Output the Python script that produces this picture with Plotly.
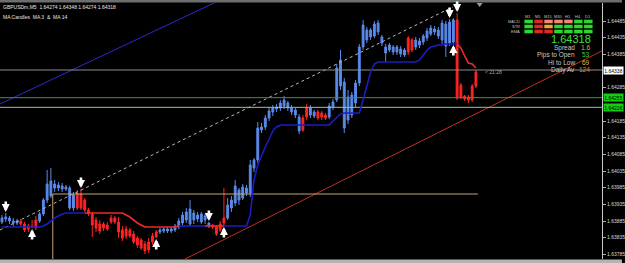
import plotly.graph_objects as go

# ---------------- data ----------------
symbol_line = "GBPUSDm,M5  1.64274 1.64348 1.64274 1.64318"
indicator_line = "MA Candles  MA 3  &  MA 14"

opens = [1.63882, 1.63891, 1.63894, 1.63885, 1.63879, 1.63885, 1.63876, 1.63861, 1.63870, 1.63864,
         1.63885, 1.63906, 1.63948, 1.63960, 1.63996, 1.63984, 1.63990, 1.63981, 1.63984, 1.63924,
         1.63969, 1.63966, 1.63948, 1.63918, 1.63906, 1.63888, 1.63876, 1.63864, 1.63873, 1.63882,
         1.63894, 1.63882, 1.63858, 1.63840, 1.63858, 1.63846, 1.63834, 1.63828, 1.63816, 1.63798,
         1.63822, 1.63837, 1.63852, 1.63855, 1.63861, 1.63855, 1.63858, 1.63867, 1.63879, 1.63888,
         1.63876, 1.63888, 1.63903, 1.63882, 1.63888, 1.63879, 1.63873, 1.63867, 1.63876, 1.63894,
         1.63894, 1.63924, 1.63939, 1.63978, 1.63954, 1.63984, 1.63969, 1.64044, 1.64068, 1.64158,
         1.64167, 1.64194, 1.64212, 1.64221, 1.64224, 1.64230, 1.64239, 1.64224, 1.64218, 1.64197,
         1.64194, 1.64197, 1.64203, 1.64212, 1.64212, 1.64209, 1.64203, 1.64197, 1.64227, 1.64248,
         1.64290, 1.64302, 1.64188, 1.64203, 1.64239, 1.64299, 1.64407, 1.64458, 1.64437, 1.64440,
         1.64452, 1.64437, 1.64407, 1.64398, 1.64407, 1.64392, 1.64401, 1.64383, 1.64392, 1.64428,
         1.64407, 1.64413, 1.64422, 1.64434, 1.64446, 1.64461, 1.64458, 1.64428, 1.64476, 1.64419,
         1.64422, 1.64488, 1.64293, 1.64260, 1.64257, 1.64248, 1.64290]
highs = [1.63903, 1.63909, 1.63900, 1.63894, 1.63891, 1.63891, 1.63882, 1.63876, 1.63888, 1.63900,
         1.63912, 1.63954, 1.64038, 1.64044, 1.64008, 1.64002, 1.63999, 1.63993, 1.63990, 1.63972,
         1.63978, 1.63981, 1.63954, 1.63924, 1.63912, 1.63897, 1.63888, 1.63882, 1.63882, 1.63903,
         1.63900, 1.63897, 1.63870, 1.63870, 1.63864, 1.63855, 1.63840, 1.63834, 1.63825, 1.63834,
         1.63849, 1.63858, 1.63864, 1.63867, 1.63867, 1.63867, 1.63876, 1.63894, 1.63912, 1.63924,
         1.63948, 1.63918, 1.63912, 1.63912, 1.63906, 1.63882, 1.63876, 1.63873, 1.63885, 1.63984,
         1.63954, 1.63960, 1.64008, 1.63984, 1.63996, 1.63993, 1.64068, 1.64074, 1.64182, 1.64179,
         1.64203, 1.64227, 1.64233, 1.64236, 1.64248, 1.64260, 1.64245, 1.64233, 1.64224, 1.64206,
         1.64203, 1.64236, 1.64233, 1.64218, 1.64218, 1.64215, 1.64209, 1.64239, 1.64251, 1.64356,
         1.64398, 1.64314, 1.64278, 1.64272, 1.64308, 1.64416, 1.64488, 1.64467, 1.64464, 1.64485,
         1.64488, 1.64443, 1.64416, 1.64419, 1.64413, 1.64413, 1.64410, 1.64404, 1.64440, 1.64434,
         1.64437, 1.64434, 1.64446, 1.64464, 1.64473, 1.64470, 1.64467, 1.64488, 1.64485, 1.64491,
         1.64494, 1.64509, 1.64299, 1.64263, 1.64263, 1.64296, 1.64338]
lows = [1.63876, 1.63882, 1.63876, 1.63870, 1.63873, 1.63870, 1.63852, 1.63852, 1.63864, 1.63858,
        1.63879, 1.63900, 1.63939, 1.63954, 1.63972, 1.63975, 1.63972, 1.63975, 1.63918, 1.63915,
        1.63918, 1.63918, 1.63912, 1.63900, 1.63837, 1.63852, 1.63846, 1.63855, 1.63855, 1.63876,
        1.63876, 1.63834, 1.63825, 1.63831, 1.63834, 1.63816, 1.63804, 1.63798, 1.63786, 1.63789,
        1.63813, 1.63834, 1.63846, 1.63849, 1.63849, 1.63849, 1.63852, 1.63861, 1.63870, 1.63879,
        1.63870, 1.63876, 1.63882, 1.63876, 1.63876, 1.63864, 1.63861, 1.63840, 1.63852, 1.63870,
        1.63888, 1.63912, 1.63930, 1.63933, 1.63948, 1.63960, 1.63957, 1.64032, 1.64059, 1.64149,
        1.64158, 1.64185, 1.64200, 1.64212, 1.64215, 1.64221, 1.64215, 1.64203, 1.64194, 1.64146,
        1.64152, 1.64188, 1.64194, 1.64194, 1.64188, 1.64188, 1.64188, 1.64191, 1.64218, 1.64242,
        1.64278, 1.64149, 1.64176, 1.64194, 1.64227, 1.64290, 1.64398, 1.64419, 1.64428, 1.64434,
        1.64443, 1.64410, 1.64362, 1.64392, 1.64383, 1.64383, 1.64377, 1.64377, 1.64383, 1.64392,
        1.64398, 1.64404, 1.64413, 1.64425, 1.64440, 1.64443, 1.64431, 1.64416, 1.64377, 1.64410,
        1.64416, 1.64248, 1.64251, 1.64245, 1.64239, 1.64242, 1.64284]
closes = [1.63894, 1.63897, 1.63885, 1.63879, 1.63885, 1.63876, 1.63858, 1.63870, 1.63867, 1.63888,
          1.63906, 1.63948, 1.63996, 1.64005, 1.63984, 1.63993, 1.63981, 1.63987, 1.63924, 1.63963,
          1.63924, 1.63924, 1.63918, 1.63906, 1.63873, 1.63864, 1.63855, 1.63876, 1.63861, 1.63894,
          1.63882, 1.63852, 1.63834, 1.63861, 1.63840, 1.63822, 1.63813, 1.63804, 1.63795, 1.63822,
          1.63840, 1.63852, 1.63858, 1.63861, 1.63855, 1.63861, 1.63870, 1.63885, 1.63903, 1.63912,
          1.63921, 1.63909, 1.63891, 1.63906, 1.63900, 1.63870, 1.63867, 1.63846, 1.63858, 1.63879,
          1.63933, 1.63948, 1.63990, 1.63948, 1.63987, 1.63969, 1.64053, 1.64068, 1.64164, 1.64167,
          1.64194, 1.64215, 1.64224, 1.64227, 1.64239, 1.64248, 1.64224, 1.64212, 1.64203, 1.64155,
          1.64158, 1.64224, 1.64224, 1.64200, 1.64194, 1.64197, 1.64194, 1.64230, 1.64242, 1.64344,
          1.64368, 1.64164, 1.64257, 1.64263, 1.64299, 1.64407, 1.64473, 1.64428, 1.64458, 1.64476,
          1.64479, 1.64419, 1.64389, 1.64413, 1.64392, 1.64407, 1.64386, 1.64398, 1.64434, 1.64398,
          1.64428, 1.64425, 1.64440, 1.64455, 1.64464, 1.64452, 1.64440, 1.64479, 1.64410, 1.64482,
          1.64488, 1.64254, 1.64257, 1.64251, 1.64248, 1.64290, 1.64332]
ma14 = ([1.63867] * 11 + [1.63870, 1.63876, 1.63885, 1.63894, 1.63900, 1.63906] + [1.63909] * 16 +
        [1.63903, 1.63897, 1.63888, 1.63879, 1.63873] + [1.63867] * 9 + [1.63870] * 19 +
        [1.63903, 1.64008, 1.64053, 1.64083, 1.64107, 1.64131, 1.64155, 1.64167] + [1.64173] * 14 +
        [1.64185, 1.64197, 1.64206] + [1.64209] * 5 + [1.64248, 1.64293, 1.64332, 1.64356] +
        [1.64362] * 11 + [1.64368, 1.64383, 1.64398, 1.64407, 1.64410, 1.64413, 1.64413] +
        [1.64416] * 4 + [1.64404, 1.64380, 1.64359, 1.64356, 1.64344])

candle_segments = [(0, 4, "up"), (5, 9, "down"), (10, 19, "up"), (20, 41, "down"), (42, 55, "up"),
                   (56, 59, "down"), (60, 79, "up"), (80, 81, "down"), (82, 83, "up"), (84, 86, "down"),
                   (87, 107, "up"), (108, 109, "down"), (110, 120, "up"), (121, 126, "down")]
ma_segments = [(0, 22, "up"), (22, 47, "down"), (47, 54, "up"), (54, 59, "down"), (59, 121, "up"),
               (121, 126, "down")]
signal_arrows = [(1, "down"), (8, "up"), (21, "down"), (41, "up"), (55, "down"), (59, "up"),
                 (119, "down"), (120, "up"), (121, "down")]

level_bid = 1.64338
level_green1 = 1.64255
level_green2 = 1.64226
level_tan = 1.63966
tan_x = [13.5, 126.5]

trend_dotted_x, trend_dotted_y = [-0.53, 119.8], [1.63858, 1.64527]
trend_blue_x, trend_blue_y = [-0.53, 60.85], [1.64236, 1.64563]
trend_red_x, trend_red_y = [47.09, 161.4], [1.63762, 1.64406]

tick_values = [round(1.63785 + 0.0005 * k, 5) for k in range(15)]

tf_labels = ["M1", "M5", "M15", "M30", "H1", "H4", "D1"]
row_labels = ["MACD", "STR", "EMA"]
signal_matrix = [["up", "down", "weak", "weak", "weak", "up", "up"],
                 ["up", "down", "flat", "up", "up", "up", "up"],
                 ["up", "down", "down", "up", "up", "up", "up"]]

panel_price = "1.64318"
stats_labels = ["Spread", "Pips to Open", "Hi to Low", "Daily Av"]
stats_values = ["1.6", "53", "69", "124"]
timer_text = "< 21:28"

# ---------------- styling ----------------
W, H = 625, 263
ML, MR, MT, MB = 0, 20, 3, 4
PW, PH = W - ML - MR, H - MT - MB
FONT = "Liberation Sans, Arial, sans-serif"

C_UP, C_DN = "#5a8aea", "#ff2424"
MA_UP, MA_DN = "#1c1cc4", "#ee2a2a"
STATUS_COL = {"up": "#2ed82e", "down": "#e02828", "weak": "#f08a78", "flat": "#f0a828"}
STAT_COL = ["#f0a040", "#3cd03c", "#f0b040", "#f07848"]
YR = [1.63771, 1.64539]


def pxx(x):
    return (x - ML) / PW


def pyy(y):
    return (H - MB - y) / PH


fig = go.Figure()

# trend lines
fig.add_trace(go.Scatter(x=trend_blue_x, y=trend_blue_y, mode="lines",
                         line=dict(color="#2a2ad0", width=1), hoverinfo="skip"))
fig.add_trace(go.Scatter(x=trend_dotted_x, y=trend_dotted_y, mode="lines",
                         line=dict(color="#b8b8b8", width=1, dash="dot"), hoverinfo="skip"))
fig.add_trace(go.Scatter(x=trend_red_x, y=trend_red_y, mode="lines",
                         line=dict(color="#b8321e", width=1), hoverinfo="skip"))

# horizontal levels
xr = [-0.53, 159.52]
fig.add_trace(go.Scatter(x=xr, y=[level_bid] * 2, mode="lines", line=dict(color="#8c8c8c", width=1), hoverinfo="skip"))
fig.add_trace(go.Scatter(x=xr, y=[level_green1] * 2, mode="lines", line=dict(color="#3a963a", width=1), hoverinfo="skip"))
fig.add_trace(go.Scatter(x=xr, y=[level_green2] * 2, mode="lines", line=dict(color="#94c894", width=1), hoverinfo="skip"))
fig.add_trace(go.Scatter(x=[tan_x[0], tan_x[0], tan_x[1]], y=[1.6370, level_tan, level_tan], mode="lines",
                         line=dict(color="#c8a574", width=1), hoverinfo="skip"))

# MA line
for a, b, d in ma_segments:
    fig.add_trace(go.Scatter(x=list(range(a, b + 1)), y=ma14[a:b + 1], mode="lines",
                             line=dict(color=MA_UP if d == "up" else MA_DN, width=1.6), hoverinfo="skip"))

# candles
for trend, col in (("up", C_UP), ("down", C_DN)):
    idx = [i for a, b, d in candle_segments if d == trend for i in range(a, b + 1)]
    fig.add_trace(go.Candlestick(
        x=idx, open=[opens[i] for i in idx], high=[highs[i] for i in idx],
        low=[lows[i] for i in idx], close=[closes[i] for i in idx],
        increasing=dict(line=dict(color=col, width=1), fillcolor=col),
        decreasing=dict(line=dict(color=col, width=1), fillcolor=col),
        whiskerwidth=0, hoverinfo="skip"))

annotations = []
# signal arrows
for i, d in signal_arrows:
    down = d == "down"
    annotations.append(dict(x=i, y=highs[i] if down else lows[i], xref="x", yref="y", text="",
                            showarrow=True, ax=0, ay=-13 if down else 13, arrowhead=2, arrowsize=0.62,
                            arrowwidth=2.6, arrowcolor="white", standoff=1))

# header texts
annotations.append(dict(x=pxx(1), y=pyy(7), xref="paper", yref="paper", text=symbol_line,
                        showarrow=False, xanchor="left", yanchor="middle",
                        font=dict(family=FONT, size=5, color="#e8e8e8")))
annotations.append(dict(x=pxx(1), y=pyy(17), xref="paper", yref="paper", text=indicator_line,
                        showarrow=False, xanchor="left", yanchor="middle",
                        font=dict(family=FONT, size=5, color="#e8e8e8")))

# right axis boxes (they cover the tick labels beneath them)
box_levels = [(level_bid, "#ffffff"), (level_green1, "#10d010"), (level_green2, "#10d010")]
px_per_price = PH / (YR[1] - YR[0])
shown_ticks = [v for v in tick_values
               if all(abs(v - lvl) * px_per_price > 5 for lvl, _ in box_levels)]
for lvl, bg in box_levels:
    annotations.append(dict(x=1, y=lvl, xref="paper", yref="y", text=f"{lvl:.5f}", showarrow=False,
                            xanchor="left", yanchor="middle", xshift=1, bgcolor=bg, borderpad=0.5,
                            width=18, font=dict(family=FONT, size=5, color="#000000")))

# dashboard
shapes = []
for c, lab in enumerate(tf_labels):
    cx = 531 + 10 * c
    annotations.append(dict(x=pxx(cx), y=pyy(16.5), xref="paper", yref="paper", text=lab, showarrow=False,
                            xanchor="center", yanchor="middle", font=dict(family=FONT, size=4, color="#c0c0c0")))
for r, lab in enumerate(row_labels):
    cy = 21.5 + 5 * r
    annotations.append(dict(x=pxx(525), y=pyy(cy), xref="paper", yref="paper", text=lab, showarrow=False,
                            xanchor="right", yanchor="middle", font=dict(family=FONT, size=4, color="#c0c0c0")))
    for c, st in enumerate(signal_matrix[r]):
        x0 = 527 + 10 * c
        shapes.append(dict(type="rect", xref="paper", yref="paper", x0=pxx(x0), x1=pxx(x0 + 8.5),
                           y0=pyy(cy + 1.8), y1=pyy(cy - 1.8), fillcolor=STATUS_COL[st], line=dict(width=0)))

annotations.append(dict(x=pxx(596), y=pyy(38.5), xref="paper", yref="paper", text=panel_price, showarrow=False,
                        xanchor="right", yanchor="middle", font=dict(family=FONT, size=11, color="#3ee03e")))
for k, (lab, val) in enumerate(zip(stats_labels, stats_values)):
    yy = 47.5 + 7.4 * k
    annotations.append(dict(x=pxx(580), y=pyy(yy), xref="paper", yref="paper", text=lab, showarrow=False,
                            xanchor="right", yanchor="middle", font=dict(family=FONT, size=6.5, color="#c8c8c8")))
    annotations.append(dict(x=pxx(595), y=pyy(yy), xref="paper", yref="paper", text=val, showarrow=False,
                            xanchor="right", yanchor="middle", font=dict(family=FONT, size=6.5, color=STAT_COL[k])))

annotations.append(dict(x=pxx(485), y=pyy(72), xref="paper", yref="paper", text=timer_text, showarrow=False,
                        xanchor="left", yanchor="middle", font=dict(family=FONT, size=5, color="#a8a8a8")))

# frame strips
shapes.append(dict(type="rect", xref="paper", yref="paper", x0=pxx(0), x1=pxx(W), y0=pyy(2.5), y1=pyy(0),
                   fillcolor="#6e6e6e", line=dict(width=0), layer="above"))
shapes.append(dict(type="rect", xref="paper", yref="paper", x0=pxx(0), x1=pxx(W), y0=pyy(H), y1=pyy(259.5),
                   fillcolor="#b4b4b4", line=dict(width=0), layer="above"))
shapes.append(dict(type="path", xref="paper", yref="paper",
                   path=f"M {pxx(479)} {pyy(3)} L {pxx(485)} {pyy(3)} L {pxx(482)} {pyy(7)} Z",
                   fillcolor="#9a9a9a", line=dict(width=0)))

fig.update_layout(
    width=W, height=H, margin=dict(l=ML, r=MR, t=MT, b=MB),
    paper_bgcolor="#000000", plot_bgcolor="#000000", showlegend=False,
    annotations=annotations, shapes=shapes,
    xaxis=dict(range=[-0.53, 159.52], visible=False, rangeslider=dict(visible=False), fixedrange=True),
    yaxis=dict(range=YR, side="right", showgrid=False, zeroline=False,
               tickvals=shown_ticks, ticktext=[f"{v:.5f}" for v in shown_ticks],
               ticks="outside", ticklen=3, tickcolor="#b0b0b0", tickwidth=1,
               tickfont=dict(family=FONT, size=5, color="#d8d8d8"),
               showline=True, linecolor="#c8c8c8", linewidth=1, fixedrange=True),
)

fig.write_html("out.html")
